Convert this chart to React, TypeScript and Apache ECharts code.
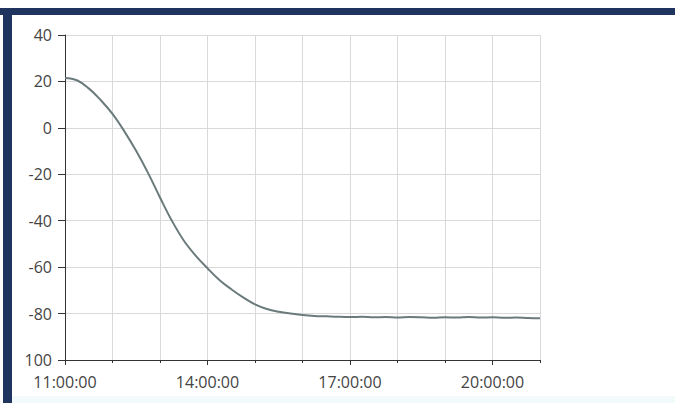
import React, { useEffect, useRef } from "react";
import * as echarts from "echarts";

// time in hours since midnight (15-minute steps)
const times: number[] = [
  11, 11.25, 11.5, 11.75, 12, 12.25, 12.5, 12.75, 13, 13.25, 13.5, 13.75,
  14, 14.25, 14.5, 14.75, 15, 15.25, 15.5, 15.75, 16, 16.25, 16.5, 16.75,
  17, 17.25, 17.5, 17.75, 18, 18.25, 18.5, 18.75, 19, 19.25, 19.5, 19.75,
  20, 20.25, 20.5, 20.75, 21,
];
const values: number[] = [
  21.5, 20.5, 17, 12, 6, -1.5, -10, -19.5, -30, -40, -48.5, -55,
  -60.5, -65.5, -69.5, -73, -76, -78, -79.2, -80, -80.6, -81, -81.2, -81.4,
  -81.5, -81.4, -81.6, -81.5, -81.7, -81.5, -81.6, -81.8, -81.6, -81.7, -81.5, -81.7,
  -81.6, -81.8, -81.7, -81.9, -82,
];
const yTicks = { min: -100, max: 40, step: 20 };
const xRange = { min: 11, max: 21, minorStep: 1, majorStep: 3 };

function fmtHour(v: number): string {
  const h = Math.round(v);
  return (h < 10 ? "0" + h : "" + h) + ":00:00";
}

export default function App() {
  const ref = useRef<HTMLDivElement>(null);
  useEffect(() => {
    if (!ref.current) return;
    const chart = echarts.init(ref.current, undefined, { renderer: "svg" });
    const font = "'Open Sans', 'DejaVu Sans', sans-serif";
    chart.setOption({
      animation: false,
      backgroundColor: "#ffffff",
      grid: { left: 65, right: 135, top: 35, bottom: 43, containLabel: false },
      graphic: [
        { type: "rect", shape: { x: 0, y: 8, width: 675, height: 7 }, style: { fill: "#1f3560" }, z: 10 },
        { type: "rect", shape: { x: 3, y: 8, width: 9, height: 395 }, style: { fill: "#1f3560" }, z: 10 },
        { type: "rect", shape: { x: 12, y: 396, width: 663, height: 7 }, style: { fill: "#f3fafb" }, z: -1 },
      ],
      xAxis: [
        {
          type: "value",
          min: xRange.min,
          max: xRange.max,
          interval: xRange.minorStep,
          axisLine: { show: true, onZero: false, lineStyle: { color: "#333", width: 1 } },
          axisTick: { show: true, length: 3, lineStyle: { color: "#333" } },
          axisLabel: { show: false },
          splitLine: { show: true, lineStyle: { color: "#d9d9d9", width: 1 } },
        },
        {
          type: "value",
          position: "bottom",
          min: xRange.min,
          max: xRange.max,
          interval: xRange.majorStep,
          axisLine: { show: false, onZero: false },
          axisTick: { show: true, length: 5, lineStyle: { color: "#333" } },
          splitLine: { show: false },
          axisLabel: {
            show: true,
            margin: 14,
            color: "#444",
            fontSize: 16,
            fontFamily: font,
            showMaxLabel: false,
            formatter: (v: number) => (v > 20 ? "" : fmtHour(v)),
          },
        },
      ],
      yAxis: {
        type: "value",
        min: yTicks.min,
        max: yTicks.max,
        interval: yTicks.step,
        axisLine: { show: true, onZero: false, lineStyle: { color: "#333", width: 1 } },
        axisTick: { show: true, length: 7, lineStyle: { color: "#333" } },
        splitLine: { show: true, lineStyle: { color: "#d9d9d9", width: 1 } },
        axisLabel: {
          margin: 13,
          color: "#444",
          fontSize: 16,
          fontFamily: font,
          formatter: (v: number) => (v === -100 ? "100" : String(v)),
        },
      },
      series: [
        {
          type: "line",
          xAxisIndex: 0,
          data: times.map((t, i) => [t, values[i]]),
          smooth: 0.4,
          showSymbol: false,
          lineStyle: { color: "#6b7b7c", width: 2 },
        },
      ],
    });
    return () => chart.dispose();
  }, []);
  return (
    <div
      ref={ref}
      style={{ position: "fixed", left: 0, top: 0, width: 675, height: 403 }}
    />
  );
}
